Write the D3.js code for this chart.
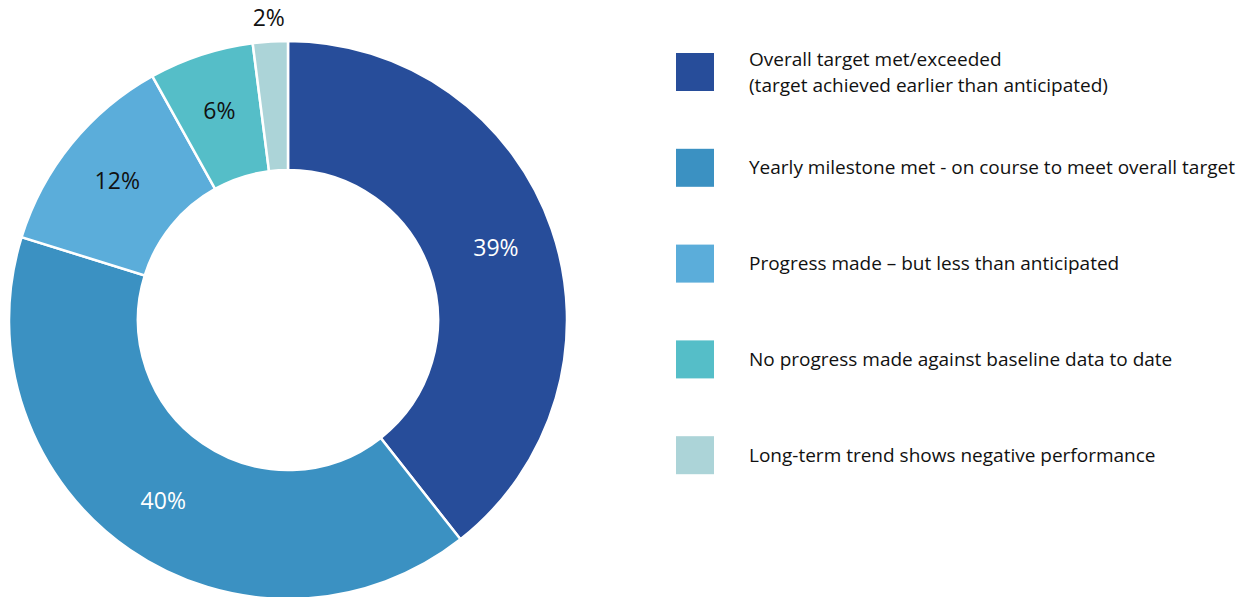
<!DOCTYPE html>
<html>
<head>
<meta charset="utf-8">
<script src="https://cdn.jsdelivr.net/npm/d3@7"></script>
<style>
  html, body { margin: 0; padding: 0; background: #fff; }
  svg { display: block; font-family: "Open Sans", "Noto Sans", sans-serif; }
</style>
</head>
<body>
<svg id="chart" width="1244" height="597"></svg>
<script>
// Progress status of targets (share of indicators, %)
const categories = [
  "Overall target met/exceeded\n(target achieved earlier than anticipated)",
  "Yearly milestone met - on course to meet overall target",
  "Progress made \u2013 but less than anticipated",
  "No progress made against baseline data to date",
  "Long-term trend shows negative performance"
];
const values = [39, 40, 12, 6, 2];
const colors = ["#274d9a", "#3b91c2", "#5badda", "#55bec8", "#acd4d8"];
const labelColors = ["#ffffff", "#ffffff", "#111111", "#111111", "#111111"];

const svg = d3.select("#chart");
const cx = 288, cy = 320;
const outerR = 279, innerR = 150;

const pie = d3.pie().value(d => d).sort(null);
const arcs = pie(values);
const arc = d3.arc().innerRadius(innerR).outerRadius(outerR);
const labelArc = d3.arc().innerRadius(220).outerRadius(220);
const outsideArc = d3.arc().innerRadius(303).outerRadius(303);

const g = svg.append("g").attr("transform", `translate(${cx},${cy})`);

g.selectAll("path.slice")
  .data(arcs)
  .join("path")
  .attr("class", "slice")
  .attr("d", arc)
  .attr("fill", (d, i) => colors[i])
  .attr("stroke", "#fff")
  .attr("stroke-width", 2.5)
  .attr("stroke-linejoin", "miter");

// Percentage labels: small slices get their label outside the ring
g.selectAll("text.pct")
  .data(arcs)
  .join("text")
  .attr("class", "pct")
  .attr("transform", d => {
    const small = (d.endAngle - d.startAngle) < 0.2;
    const [x, y] = (small ? outsideArc : labelArc).centroid(d);
    return `translate(${x},${y})`;
  })
  .attr("text-anchor", "middle")
  .attr("dy", "0.35em")
  .attr("font-size", 23)
  .attr("fill", (d, i) => labelColors[i])
  .text(d => d.data + "%");

// Legend
const legend = svg.append("g").attr("transform", "translate(676,53)");
const items = legend.selectAll("g.item")
  .data(categories)
  .join("g")
  .attr("class", "item")
  .attr("transform", (d, i) => `translate(0,${i * 95.8})`);

items.append("rect")
  .attr("width", 38)
  .attr("height", 38)
  .attr("fill", (d, i) => colors[i]);

items.append("text")
  .attr("x", 73)
  .attr("font-size", 19)
  .attr("fill", "#111")
  .each(function (d) {
    const lines = d.split("\n");
    const lh = 26;
    const start = 19 - (lines.length - 1) * lh / 2;
    d3.select(this).selectAll("tspan")
      .data(lines)
      .join("tspan")
      .attr("x", 73)
      .attr("y", (l, j) => start + j * lh)
      .attr("dy", "0.35em")
      .text(l => l);
  });
</script>
</body>
</html>
